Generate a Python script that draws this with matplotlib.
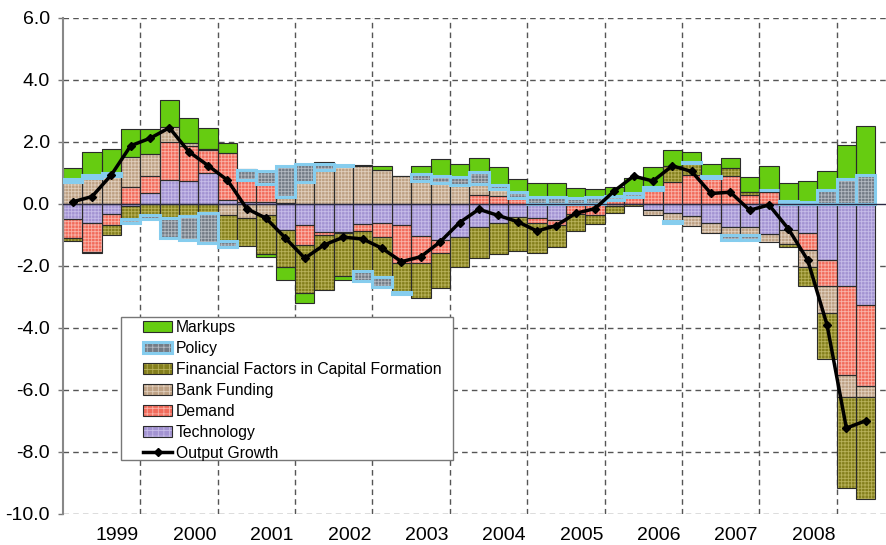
import numpy as np
import matplotlib.pyplot as plt
from matplotlib.patches import Rectangle, Patch
from matplotlib.lines import Line2D

plt.rcParams['font.family'] = ['Liberation Sans', 'DejaVu Sans']
plt.rcParams['hatch.linewidth'] = 0.6

# quarterly, 1998Q3 .. 2008Q4
years = ['1999', '2000', '2001', '2002', '2003', '2004', '2005', '2006', '2007', '2008']

technology = [-0.50, -0.62, -0.32, -0.05, 0.37, 0.76, 0.73, 0.99, 0.14, 0.08,
              0.08, -0.84, -0.68, -0.89, -0.90, -0.66, -0.62, -0.68, -1.03, -1.16,
              -1.05, -0.73, -0.62, -0.43, -0.46, -0.52, -0.02, 0.00, 0.00, 0.00,
              -0.20, -0.30, -0.40, -0.62, -0.73, -0.73, -0.98, -0.85, -0.95, -1.80,
              -2.65, -3.26]
demand = [-0.60, -0.92, -0.35, 0.56, 0.53, 1.25, 1.14, 0.75, 1.50, 0.70,
          0.55, 0.03, -0.65, -0.11, -0.05, -0.20, -0.43, -1.22, -0.88, -0.43,
          -0.02, 0.29, 0.26, 0.20, -0.16, -0.16, -0.30, -0.36, 0.12, 0.22,
          0.45, 0.72, 0.95, 0.85, 0.90, 0.28, 0.38, 0.00, -0.54, -0.86,
          -2.87, -2.61]
bank_funding = [0.72, 0.83, 0.91, 0.94, 0.71, 0.48, 0.10, 0.05, -0.35, -0.46,
                -0.35, 0.20, 0.72, 1.10, 1.22, 1.23, 1.10, 0.91, 0.74, 0.67,
                0.60, 0.35, 0.22, 0.00, 0.00, 0.00, 0.00, 0.00, -0.05, 0.00,
                -0.15, -0.24, -0.30, -0.32, -0.27, -0.27, -0.25, -0.45, -0.55, -0.86,
                -0.70, -0.35]
financial = [-0.10, -0.03, -0.32, -0.42, -0.35, -0.45, -0.40, -0.30, -0.85, -0.88,
             -1.25, -1.18, -1.55, -1.77, -1.37, -1.30, -1.30, -0.95, -1.13, -1.13,
             -0.97, -1.02, -1.00, -1.10, -0.97, -0.70, -0.55, -0.28, -0.25, -0.08,
             0.00, 0.52, 0.37, 0.00, 0.27, 0.10, 0.08, -0.08, -0.60, -1.49,
             -2.94, -3.31]
policy = [0.08, 0.10, 0.08, -0.15, -0.12, -0.65, -0.76, -0.96, -0.20, 0.33,
          0.42, 1.00, 0.58, 0.20, 0.03, -0.32, -0.32, -0.05, 0.23, 0.22,
          0.27, 0.38, 0.13, 0.18, 0.22, 0.22, 0.20, 0.22, 0.15, 0.12,
          0.10, -0.08, 0.03, 0.05, -0.16, -0.16, 0.00, 0.10, 0.08, 0.45,
          0.80, 0.94]
markups = [0.35, 0.76, 0.78, 0.92, 0.82, 0.88, 0.80, 0.65, 0.34, 0.03,
           -0.10, -0.43, -0.32, 0.05, -0.12, 0.02, 0.14, 0.00, 0.25, 0.56,
           0.41, 0.45, 0.59, 0.42, 0.45, 0.45, 0.30, 0.25, 0.28, 0.50,
           0.63, 0.50, 0.33, 0.38, 0.30, 0.50, 0.77, 0.58, 0.65, 0.60,
           1.10, 1.58]
output_growth = [0.07, 0.24, 0.94, 1.88, 2.12, 2.46, 1.69, 1.24, 0.77, -0.15,
                 -0.46, -1.10, -1.75, -1.32, -1.07, -1.13, -1.43, -1.86, -1.70, -1.22,
                 -0.60, -0.17, -0.37, -0.57, -0.87, -0.70, -0.30, -0.15, 0.42, 0.90,
                 0.74, 1.23, 1.05, 0.34, 0.38, -0.20, -0.03, -0.80, -1.81, -3.90,
                 -7.23, -6.99]

# stacking order from zero outward
series = [
    ('Technology', technology, '#a393d2', '#c6bce8', '#2b2b2b', 0.8),
    ('Demand', demand, '#f26a5a', '#f9b3a8', '#2b2b2b', 0.8),
    ('Bank Funding', bank_funding, '#bda083', '#e0cfbd', '#2b2b2b', 0.8),
    ('Financial Factors in Capital Formation', financial, '#847f1c', '#b8b25a', '#2b2b2b', 0.8),
    ('Policy', policy, '#737b85', '#b3bac2', '#86cdee', 2.2),
    ('Markups', markups, '#66cc11', None, '#2b2b2b', 0.8),
]

fig = plt.figure(figsize=(8.87, 5.45), dpi=100)
ax = fig.add_axes([63 / 887, 31 / 545, 1 - 63 / 887, 496 / 545])

x = np.arange(len(output_growth))
pos_base = np.zeros(len(x))
neg_base = np.zeros(len(x))
handles = {}
for name, vals, face, hatch_col, edge, lw in series:
    v = np.array(vals)
    bottom = np.where(v >= 0, pos_base, neg_base)
    z = 3 if name == 'Policy' else 2
    if hatch_col:
        ax.bar(x, v, width=1.0, bottom=bottom, color=face, edgecolor=hatch_col,
               hatch='+++++', linewidth=0, zorder=z)
    else:
        ax.bar(x, v, width=1.0, bottom=bottom, color=face, linewidth=0, zorder=z)
    ax.bar(x, v, width=1.0, bottom=bottom, facecolor='none', edgecolor=edge,
           linewidth=lw, zorder=z + 0.5)
    pos_base += np.where(v >= 0, v, 0)
    neg_base += np.where(v < 0, v, 0)
    if hatch_col:
        h = (Patch(facecolor=face, edgecolor=hatch_col, hatch='+++', linewidth=0),
             Patch(facecolor='none', edgecolor=edge, linewidth=lw))
    else:
        h = Patch(facecolor=face, edgecolor=edge, linewidth=lw)
    handles[name] = h

ax.axhline(0, color='#2a2a44', lw=1.0, zorder=4)
ax.plot(x, output_growth, color='black', lw=2.5, marker='D', markersize=4.5, zorder=6)

ax.set_xlim(-0.5, 42.1)
ax.set_ylim(-10, 6)

dash = (0, (4, 3))
for yv in range(-10, 7, 2):
    if yv != 0:
        ax.axhline(yv, color='#555555', lw=1.0, ls=dash, zorder=1)
for xv in np.arange(3.5, 40, 4):
    ax.axvline(xv, color='#555555', lw=1.0, ls=dash, zorder=1)

ax.set_yticks(range(-10, 7, 2))
ax.set_yticklabels([f'{v:.1f}' for v in range(-10, 7, 2)], fontsize=14)
ax.set_xticks(np.arange(2.3, 42, 4))
ax.set_xticklabels(years, fontsize=14)
ax.tick_params(axis='x', length=0, pad=9)
ax.tick_params(axis='y', length=3.5, width=1, color='#777777', pad=6)
for s in ['top', 'right', 'bottom']:
    ax.spines[s].set_visible(False)
ax.spines['left'].set_color('#888888')
ax.spines['left'].set_linewidth(1.5)

order = ['Markups', 'Policy', 'Financial Factors in Capital Formation', 'Bank Funding',
         'Demand', 'Technology']
leg_handles = [handles[n] for n in order]
leg_handles.append(Line2D([], [], color='black', lw=2.5, marker='D', markersize=4.5))
labels = order + ['Output Growth']

fig.patches.append(Rectangle((121 / 887, 85 / 545), 332 / 887, 143 / 545,
                             transform=fig.transFigure, facecolor='white',
                             edgecolor='#777777', lw=1.0, zorder=7))
leg = fig.legend(leg_handles, labels, loc='upper left',
                 bbox_to_anchor=(143 / 887, 1 - 320 / 545), frameon=False,
                 fontsize=11.3, borderpad=0, handlelength=1.85, handleheight=0.7,
                 handletextpad=0.25, labelspacing=0.38, borderaxespad=0)
leg.set_zorder(8)

fig.savefig('out.png', dpi=100)
